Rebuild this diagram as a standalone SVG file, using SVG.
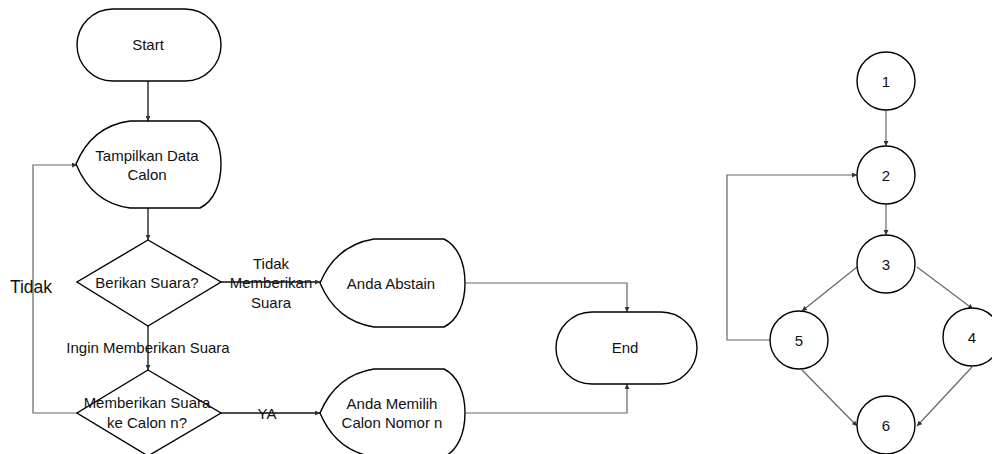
<svg xmlns="http://www.w3.org/2000/svg" width="992" height="454" viewBox="0 0 992 454">
  <style>
    .shape { fill: #ffffff; stroke: #000000; stroke-width: 1.4; }
    .lbl { font-family: "Liberation Sans", Arial, sans-serif; font-size: 15px; fill: #111111; text-anchor: middle; }
    .big { font-size: 17.5px; }
    .c1 { fill: none; stroke: #111111; stroke-width: 1.3; }
    .c2 { fill: none; stroke: #666666; stroke-width: 1.2; }
  </style>
  <defs>
    <marker id="arrow" viewBox="0 0 6 6" refX="6" refY="3" markerWidth="5" markerHeight="5" markerUnits="userSpaceOnUse" orient="auto">
      <path d="M0,0 L6,3 L0,6 z" fill="#333333"/>
    </marker>
  </defs>

  <!-- connectors -->
  <g id="connectors">
    <path class="c1" d="M148,81 L148,121" marker-end="url(#arrow)"/>
    <path class="c1" d="M148,208 L148,240" marker-end="url(#arrow)"/>
    <path class="c1" d="M221,282 L320,282" marker-end="url(#arrow)"/>
    <path class="c1" d="M148,326 L148,370" marker-end="url(#arrow)"/>
    <path class="c1" d="M221,413 L320,413" marker-end="url(#arrow)"/>
    <path class="c2" d="M77,413 L33,413 L33,165 L77,165" marker-end="url(#arrow)"/>
    <path class="c2" d="M465,283 L627,283 L627,312" marker-end="url(#arrow)"/>
    <path class="c2" d="M465,413 L627,413 L627,384" marker-end="url(#arrow)"/>

    <path class="c2" d="M886,110 L886,146" marker-end="url(#arrow)"/>
    <path class="c2" d="M886,204 L886,235" marker-end="url(#arrow)"/>
    <path class="c2" d="M857,267 L802,311" marker-end="url(#arrow)"/>
    <path class="c2" d="M917,267 L973,309" marker-end="url(#arrow)"/>
    <path class="c2" d="M802,370 L857,426" marker-end="url(#arrow)"/>
    <path class="c2" d="M972,367 L917,426" marker-end="url(#arrow)"/>
    <path class="c2" d="M771,340 L727,340 L727,175 L857,175" marker-end="url(#arrow)"/>
  </g>

  <!-- connector labels -->
  <g id="labels">
    <text class="lbl" x="271" y="268.5">Tidak</text>
    <text class="lbl" x="271" y="288">Memberikan</text>
    <text class="lbl" x="271" y="307.5">Suara</text>
    <text class="lbl" x="148" y="352.5">Ingin Memberikan Suara</text>
    <text class="lbl" x="267" y="418.5">YA</text>
    <text class="lbl big" x="31" y="293">Tidak</text>
  </g>

  <!-- flowchart nodes -->
  <g id="start">
    <rect class="shape" x="77" y="9" width="144" height="72" rx="36" ry="36"/>
    <text class="lbl" x="148" y="49.5">Start</text>
  </g>

  <g id="tampilkan">
    <path class="shape" d="M76,164 Q92,126 130,121 L200,121 C214,128 221,145 221,164 C221,184 214,201 200,208 L130,208 Q92,203 76,164 Z"/>
    <text class="lbl" x="147" y="160.5">Tampilkan Data</text>
    <text class="lbl" x="147" y="179.5">Calon</text>
  </g>

  <g id="berikan">
    <path class="shape" d="M148,240 L221,282 L148,326 L77,282 Z"/>
    <text class="lbl" x="147" y="287.5">Berikan Suara?</text>
  </g>

  <g id="memberikan">
    <path class="shape" d="M148,370 L221,413 L148,456 L77,413 Z"/>
    <text class="lbl" x="147" y="408">Memberikan Suara</text>
    <text class="lbl" x="147" y="428">ke Calon n?</text>
  </g>

  <g id="abstain">
    <path class="shape" d="M320,283 Q336,245 374,239 L444,239 C458,246 465,263 465,283 C465,303 458,320 444,327 L374,327 Q336,321 320,283 Z"/>
    <text class="lbl" x="391" y="288.5">Anda Abstain</text>
  </g>

  <g id="memilih">
    <path class="shape" d="M320,413 Q336,375 374,369 L444,369 C458,376 465,393 465,413 C465,433 458,450 444,457 L374,457 Q336,451 320,413 Z"/>
    <text class="lbl" x="392" y="408.5">Anda Memilih</text>
    <text class="lbl" x="392" y="427.5">Calon Nomor n</text>
  </g>

  <g id="end">
    <rect class="shape" x="556" y="312" width="141" height="72" rx="36" ry="36"/>
    <text class="lbl" x="625" y="352.5">End</text>
  </g>

  <!-- flow graph nodes -->
  <g id="n1">
    <circle class="shape" cx="886" cy="81" r="29"/>
    <text class="lbl" x="886" y="86.5">1</text>
  </g>
  <g id="n2">
    <circle class="shape" cx="886" cy="175" r="29"/>
    <text class="lbl" x="886" y="180.5">2</text>
  </g>
  <g id="n3">
    <circle class="shape" cx="886" cy="264" r="29"/>
    <text class="lbl" x="886" y="269.5">3</text>
  </g>
  <g id="n4">
    <circle class="shape" cx="972" cy="337" r="29"/>
    <text class="lbl" x="972" y="342.5">4</text>
  </g>
  <g id="n5">
    <circle class="shape" cx="799" cy="340" r="29"/>
    <text class="lbl" x="799" y="345.5">5</text>
  </g>
  <g id="n6">
    <circle class="shape" cx="886" cy="425" r="29"/>
    <text class="lbl" x="886" y="430.5">6</text>
  </g>
</svg>
